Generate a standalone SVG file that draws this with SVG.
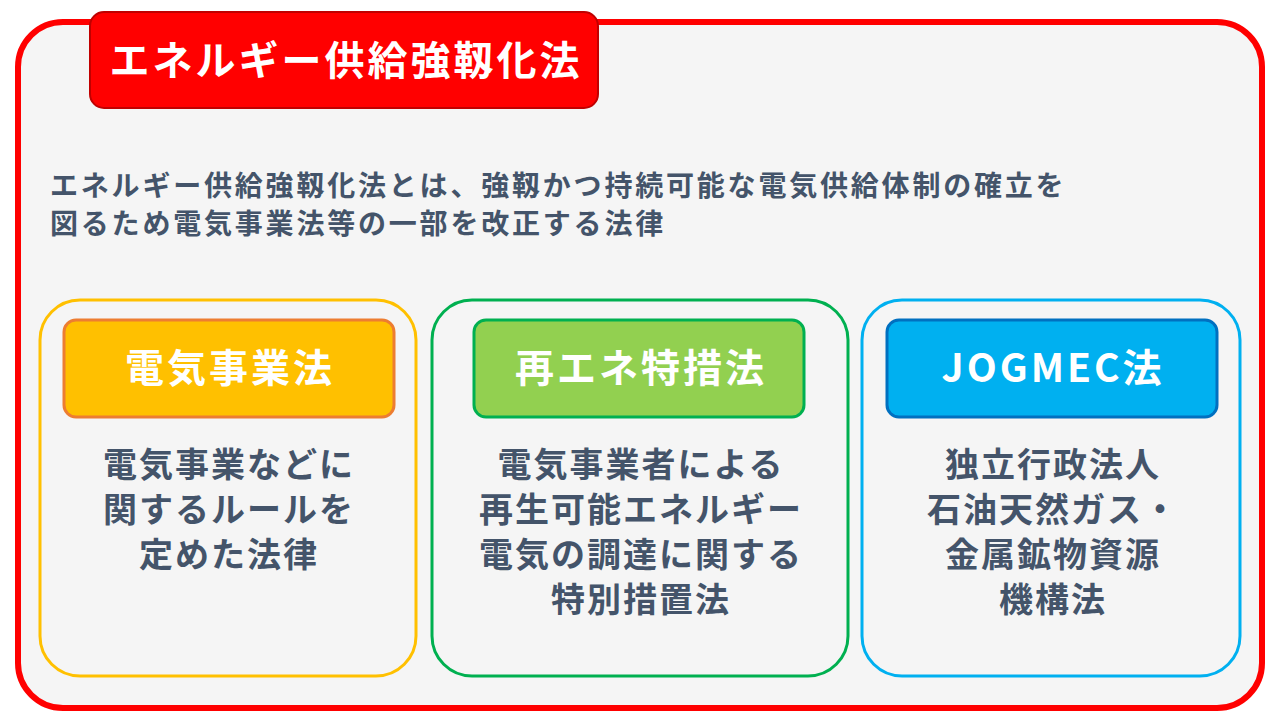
<svg xmlns="http://www.w3.org/2000/svg" width="1280" height="720" viewBox="0 0 1280 720">
<style>
text{font-family:"Noto Sans CJK JP","Liberation Sans",sans-serif;font-weight:bold}
.h{fill:#fff;font-size:39px;text-anchor:middle;letter-spacing:3px}
.b{fill:#44546A;font-size:34px;text-anchor:middle;letter-spacing:2px}
.d{fill:#44546A;font-size:28px;letter-spacing:2.8px}
.card{fill:none;stroke-width:3}
.hd{stroke-width:3}
</style>
<rect width="1280" height="720" fill="#fff"/>
<g id="frame"><rect x="18" y="22" width="1244" height="686" rx="45" fill="#F5F5F5" stroke="#FF0000" stroke-width="6"/></g>
<g id="title"><rect x="90" y="12" width="508" height="96" rx="14" fill="#FF0000" stroke="#C00000" stroke-width="2"/>
<text x="346" y="75" class="h" style="font-size:40px;letter-spacing:3px">エネルギー供給強靱化法</text></g>
<g id="desc"><text x="50" y="196" class="d">エネルギー供給強靱化法とは、強靱かつ持続可能な電気供給体制の確立を</text>
<text x="50" y="234" class="d">図るため電気事業法等の一部を改正する法律</text></g>
<g id="card1"><rect x="40" y="300" width="376" height="376" rx="40" class="card" stroke="#FFC000"/>
<rect x="64" y="320" width="330" height="97" rx="12" fill="#FFC000" stroke="#ED7D31" class="hd"/>
<text x="230" y="382" class="h">電気事業法</text>
<text x="229" y="477" class="b">電気事業などに</text><text x="229" y="522" class="b">関するルールを</text><text x="229" y="567" class="b">定めた法律</text></g>
<g id="card2"><rect x="432" y="300" width="416" height="376" rx="40" class="card" stroke="#00B050"/>
<rect x="474" y="320" width="330" height="97" rx="12" fill="#92D050" stroke="#00B050" class="hd"/>
<text x="641" y="382" class="h">再エネ特措法</text>
<text x="641" y="477" class="b">電気事業者による</text><text x="641" y="522" class="b">再生可能エネルギー</text><text x="641" y="567" class="b">電気の調達に関する</text><text x="641" y="612" class="b">特別措置法</text></g>
<g id="card3"><rect x="862" y="300" width="378" height="376" rx="40" class="card" stroke="#00B0F0"/>
<rect x="887" y="320" width="330" height="97" rx="12" fill="#00B0F0" stroke="#0070C0" class="hd"/>
<text x="1053" y="382" class="h">JOGMEC法</text>
<text x="1053" y="477" class="b">独立行政法人</text><text x="1053" y="522" class="b">石油天然ガス・</text><text x="1053" y="567" class="b">金属鉱物資源</text><text x="1053" y="612" class="b">機構法</text></g>
<g id="connectors"/>
</svg>
